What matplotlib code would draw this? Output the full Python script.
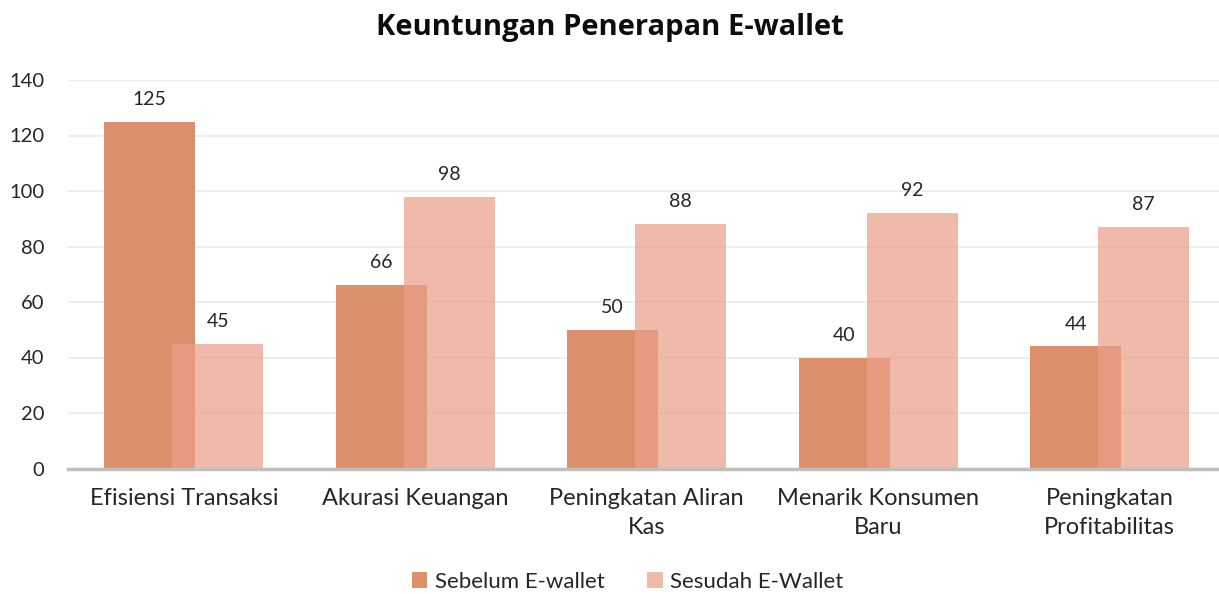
import numpy as np
import matplotlib.pyplot as plt

plt.rcParams['font.family'] = ['Lato', 'DejaVu Sans']

categories = ["Efisiensi Transaksi", "Akurasi Keuangan", "Peningkatan Aliran\nKas",
              "Menarik Konsumen\nBaru", "Peningkatan\nProfitabilitas"]
sebelum = [125, 66, 50, 40, 44]
sesudah = [45, 98, 88, 92, 87]
series_names = ["Sebelum E-wallet", "Sesudah E-Wallet"]
yticks = [0, 20, 40, 60, 80, 100, 120, 140]

W, H = 1219, 594
fig = plt.figure(figsize=(W / 100, H / 100), dpi=100)
ax = fig.add_axes([68 / W, 1 - 468.5 / H, (1219 - 68) / W, (468.5 - 80) / H])

x = np.arange(len(categories))
w = 0.393
off = 0.147
b1 = ax.bar(x - off, sebelum, w, color='#DB8F6A', zorder=2, label=series_names[0])
b2 = ax.bar(x + off, sesudah, w, color='#EBA089', alpha=0.72, zorder=3,
            label=series_names[1])

for bars in (b1, b2):
    for r in bars:
        ax.annotate(f"{int(r.get_height())}", (r.get_x() + r.get_width() / 2, r.get_height()),
                    xytext=(0, 10), textcoords='offset points', ha='center', va='bottom',
                    fontsize=14, color='#262626')

ax.set_xlim(-0.5, -0.5 + (1219 - 68) / 231.5)
ax.set_ylim(0, 140)
ax.set_yticks(yticks)
ax.set_xticks(x)
ax.set_xticklabels(categories, fontsize=17, color='#262626', linespacing=1.45)
ax.tick_params(axis='y', length=0, pad=17, labelsize=14.5, labelcolor='#262626')
ax.tick_params(axis='x', length=0, pad=14)
ax.grid(axis='y', color='#EBEBEB', linewidth=1.2, zorder=0)
ax.set_axisbelow(True)
for s in ['top', 'right', 'left']:
    ax.spines[s].set_visible(False)
ax.spines['bottom'].set_color('#BFBFBF')
ax.spines['bottom'].set_linewidth(2.5)
ax.spines['bottom'].set_zorder(4)

fig.text(0.5, 1 - 28 / H, "Keuntungan Penerapan E-wallet", ha='center', va='center',
         fontsize=21, fontweight='bold', color='#0D0D0D', family=['Open Sans', 'DejaVu Sans'])

fig.legend(handles=[b1, b2], loc='center', bbox_to_anchor=(0.515, 1 - 582 / H),
           ncol=2, frameon=False, fontsize=16, handlelength=0.7, handleheight=0.7,
           handletextpad=0.35, columnspacing=1.9, labelcolor='#262626')

fig.savefig("out.png", dpi=100)
